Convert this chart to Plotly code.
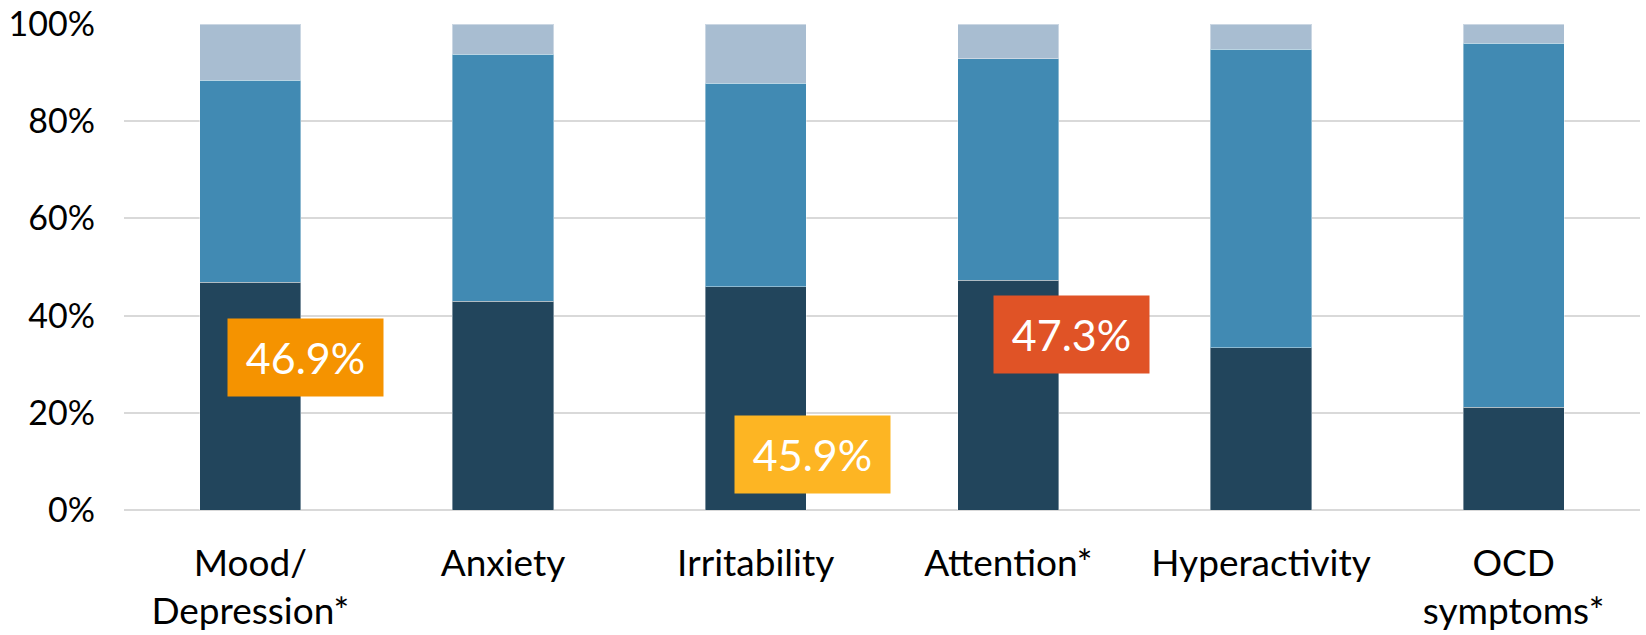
import plotly.graph_objects as go

# Symptom categories (x axis)
categories = ["Mood/<br>Depression*", "Anxiety", "Irritability",
              "Attention*", "Hyperactivity", "OCD<br>symptoms*"]

# Stacked shares (%) per category, bottom to top
share_dark = [46.9, 43.0, 45.9, 47.3, 33.4, 21.1]
share_mid = [41.5, 50.8, 41.9, 45.5, 61.4, 74.9]
share_light = [11.6, 6.2, 12.2, 7.2, 5.2, 4.0]

# Highlighted values: (category index, value, box colour, x offset, y centre)
callouts = [
    (0, 46.9, "#F59300", 0.218, 31.3),
    (2, 45.9, "#FDB523", 0.224, 11.4),
    (3, 47.3, "#E05326", 0.249, 36.1),
]

ytick_vals = [0, 20, 40, 60, 80, 100]
ytick_text = ["0%", "20%", "40%", "60%", "80%", "100%"]

FONT = "Lato, 'Gill Sans', 'Open Sans', sans-serif"

fig = go.Figure()
xs = list(range(len(categories)))
for vals, color in [(share_dark, "#22455C"),
                    (share_mid, "#418AB3"),
                    (share_light, "#A8BDD1")]:
    fig.add_trace(go.Bar(
        x=xs, y=vals,
        marker=dict(color=color, line=dict(color="rgba(255,255,255,0.4)", width=1)),
        showlegend=False, hoverinfo="skip",
    ))

for idx, val, color, dx, yc in callouts:
    fig.add_annotation(
        x=idx + dx, y=yc, xref="x", yref="y",
        text=f"{val:.1f}%", showarrow=False,
        font=dict(family=FONT, size=43, color="white"),
        bgcolor=color, width=155, height=77, borderpad=0,
        align="center", valign="middle",
    )

fig.update_layout(
    barmode="stack",
    bargap=0.6,
    width=1646, height=635,
    margin=dict(l=124, r=6, t=24, b=125),
    plot_bgcolor="white", paper_bgcolor="white",
    font=dict(family=FONT, color="black"),
    xaxis=dict(
        tickmode="array", tickvals=xs, ticktext=categories,
        range=[-0.5, len(categories) - 0.5],
        showgrid=False, zeroline=False, showline=False,
        tickfont=dict(size=37), ticklabelstandoff=28, automargin=False,
    ),
    yaxis=dict(
        range=[0, 100], tickmode="array",
        tickvals=ytick_vals, ticktext=ytick_text,
        showgrid=True, gridcolor="#D9D9D9", gridwidth=2,
        zeroline=True, zerolinecolor="#D9D9D9", zerolinewidth=2,
        showline=False, tickfont=dict(size=34), ticklabelstandoff=28,
        automargin=False,
    ),
)

fig.write_html("out.html")
